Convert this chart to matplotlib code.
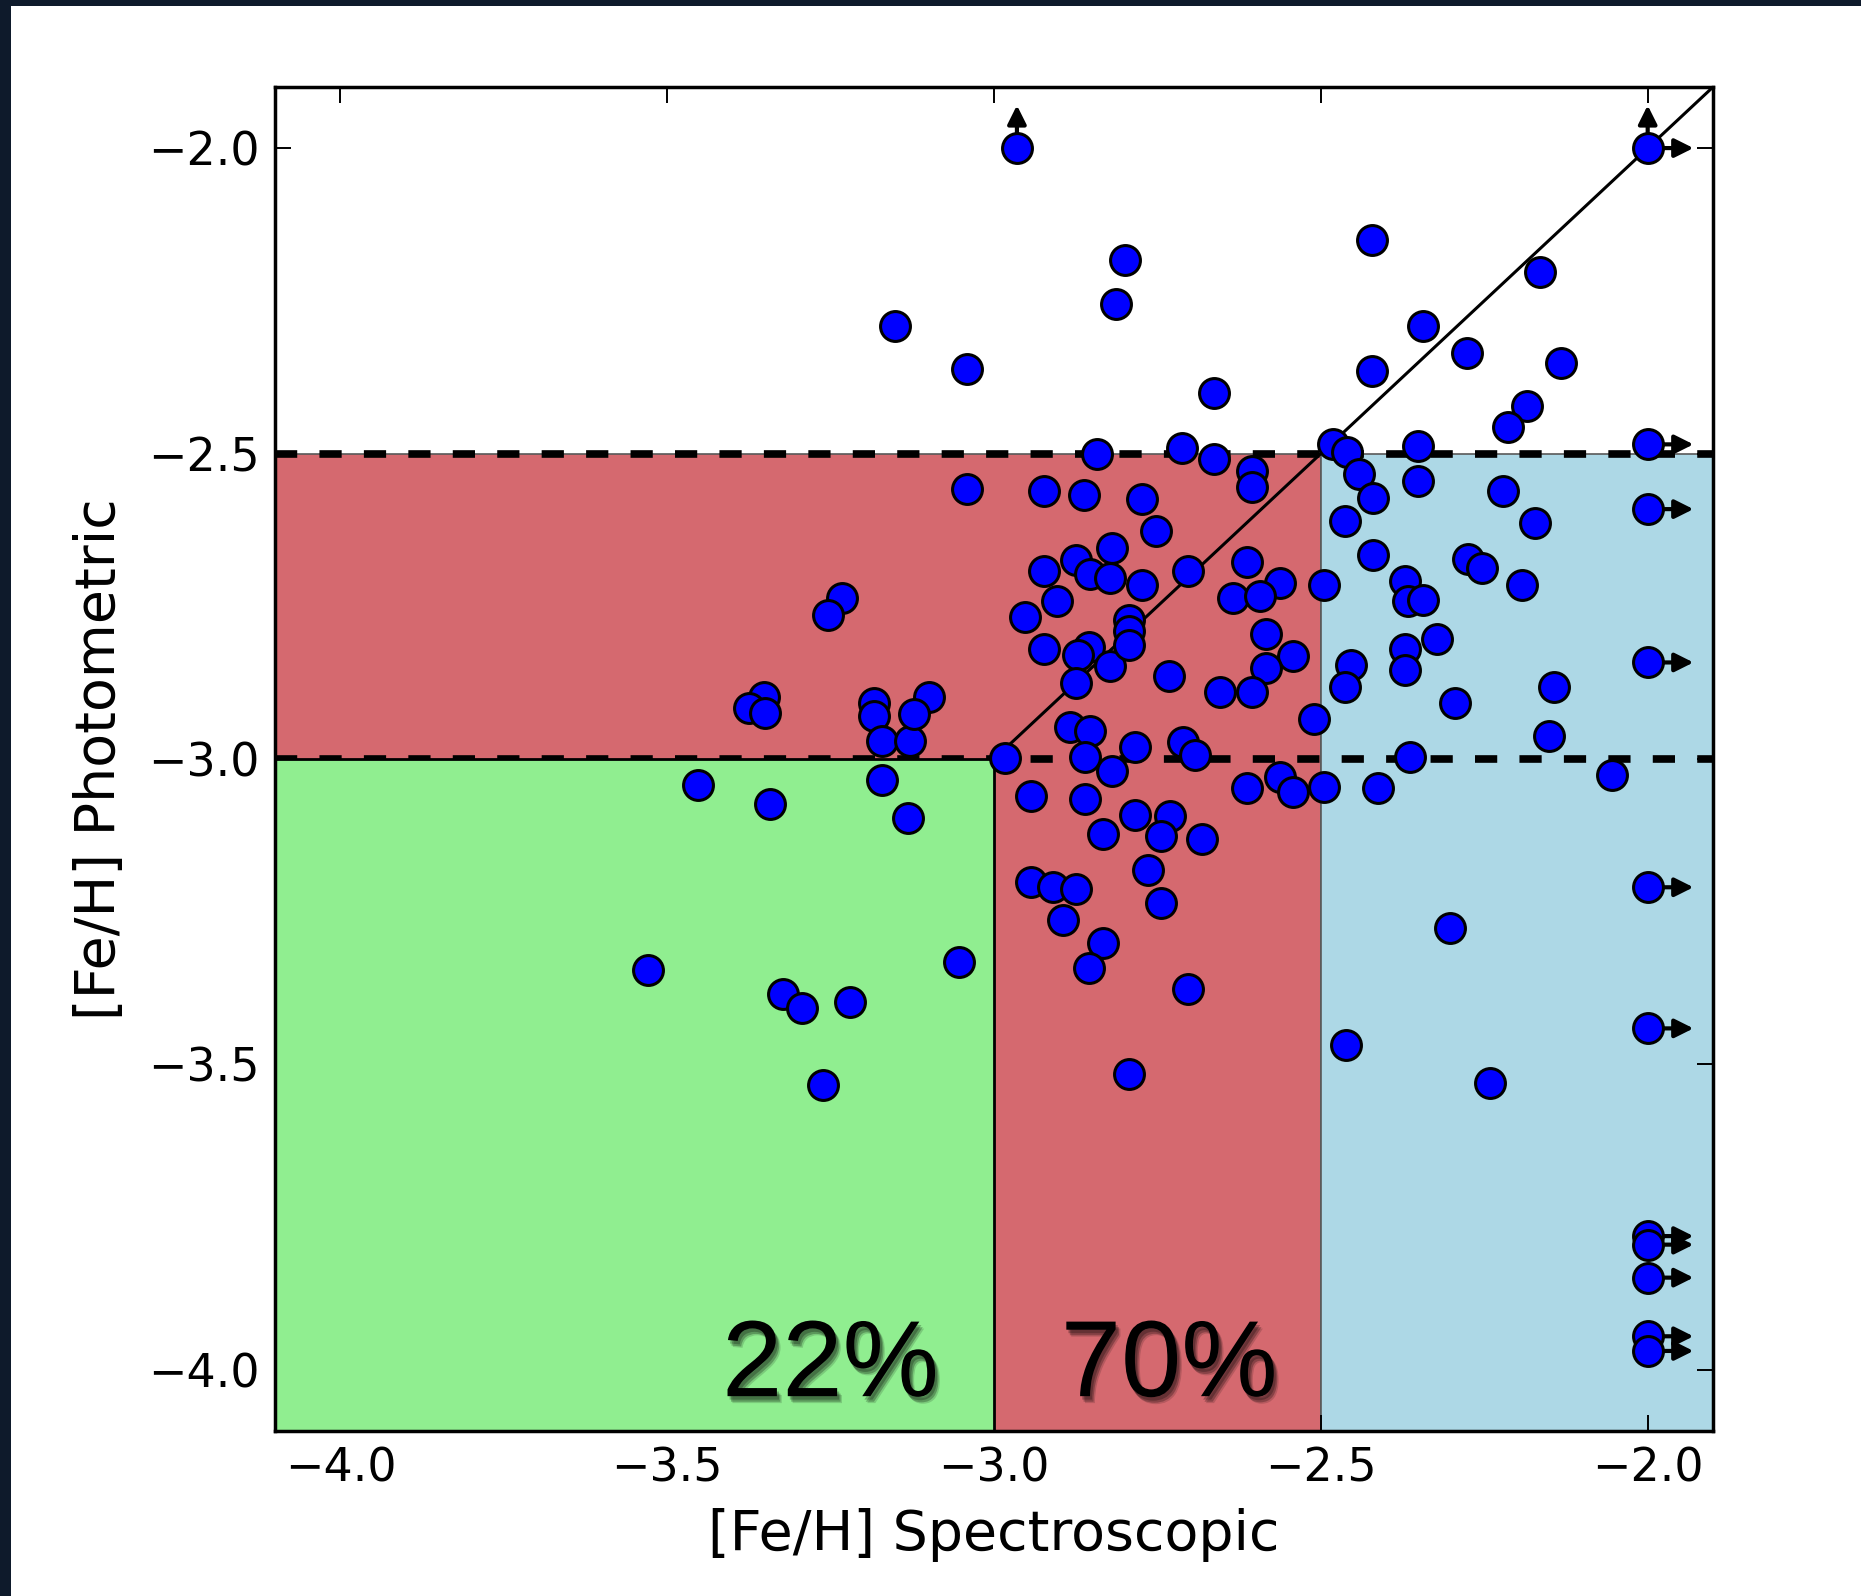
import numpy as np
import matplotlib
matplotlib.use("Agg")
import matplotlib.pyplot as plt
import matplotlib.patheffects as pe
from matplotlib.patches import Rectangle

plt.rcParams["font.family"] = ["DejaVu Sans"]
plt.rcParams["lines.scale_dashes"] = False

# [Fe/H] spectroscopic vs. photometric, one entry per star
feh_spec = [
    -2.965, -2.000, -2.800, -2.813, -3.151, -3.042, -2.422, -2.164, -2.344, -2.422,
    -2.276, -2.132, -2.184, -2.214, -2.663, -2.712, -2.663, -2.843, -2.482, -2.460,
    -2.352, -2.000,
    -2.605, -2.605, -2.773, -2.752, -2.820, -2.442, -2.421, -2.352, -2.221, -2.173,
    -2.463, -2.421, -2.275, -2.254, -2.703, -2.613, -2.000,
    -3.042, -2.923, -2.862, -2.874, -2.923,
    -2.853, -2.823, -2.903, -2.952, -2.923, -2.854, -2.871, -2.823, -2.875, -2.884,
    -2.853, -2.861, -2.819, -2.943, -2.861, -2.833, -2.943, -2.910, -2.874, -2.894,
    -2.833, -2.854, -2.984,
    -3.233, -3.254, -3.352, -3.375, -3.350, -3.184, -3.184, -3.172, -3.129, -3.100,
    -3.123, -3.453, -3.343, -3.172, -3.131, -3.530, -3.323, -3.294, -3.221, -3.053,
    -3.262,
    -2.773, -2.563, -2.634, -2.593, -2.495, -2.372, -2.366, -2.343, -2.192, -2.794,
    -2.794, -2.794, -2.733, -2.584, -2.543, -2.584, -2.654, -2.605, -2.511, -2.454,
    -2.463, -2.372, -2.372, -2.323, -2.295, -2.144, -2.151, -2.000, -2.784, -2.711,
    -2.693, -2.613, -2.563, -2.543, -2.495, -2.413, -2.364, -2.054, -2.784, -2.731,
    -2.744, -2.682, -2.764, -2.744, -2.704, -2.793, -2.303, -2.000, -2.462, -2.242,
    -2.000, -2.000, -2.000, -2.000, -2.000, -2.000,
]
feh_phot = [
    -2.000, -2.000, -2.183, -2.256, -2.292, -2.362, -2.151, -2.203, -2.291, -2.365,
    -2.335, -2.352, -2.422, -2.457, -2.401, -2.491, -2.509, -2.501, -2.485, -2.498,
    -2.487, -2.485,
    -2.528, -2.555, -2.575, -2.627, -2.655, -2.534, -2.572, -2.545, -2.561, -2.613,
    -2.610, -2.666, -2.673, -2.688, -2.693, -2.678, -2.591,
    -2.558, -2.562, -2.568, -2.674, -2.692,
    -2.697, -2.703, -2.742, -2.768, -2.820, -2.816, -2.829, -2.847, -2.876, -2.948,
    -2.954, -2.997, -3.019, -3.061, -3.065, -3.122, -3.201, -3.210, -3.213, -3.263,
    -3.301, -3.342, -2.999,
    -2.737, -2.765, -2.898, -2.917, -2.925, -2.909, -2.929, -2.970, -2.970, -2.898,
    -2.926, -3.043, -3.074, -3.035, -3.096, -3.345, -3.384, -3.407, -3.397, -3.332,
    -3.534,
    -2.715, -2.712, -2.737, -2.734, -2.716, -2.709, -2.742, -2.739, -2.716, -2.773,
    -2.790, -2.813, -2.864, -2.796, -2.831, -2.851, -2.890, -2.891, -2.934, -2.846,
    -2.882, -2.820, -2.855, -2.803, -2.908, -2.882, -2.963, -2.842, -2.981, -2.973,
    -2.994, -3.048, -3.029, -3.054, -3.046, -3.048, -2.997, -3.027, -3.092, -3.094,
    -3.126, -3.131, -3.182, -3.236, -3.376, -3.516, -3.276, -3.210, -3.468, -3.530,
    -3.441, -3.781, -3.795, -3.849, -3.945, -3.969,
]

cap = -2.0          # values stuck at the grid edge are lower limits
emp_cut = -3.0
vmp_cut = -2.5
lo, hi = -4.1, -1.9

labels = ["22%", "70%"]

spec = np.array(feh_spec)
phot = np.array(feh_phot)

fig = plt.figure(figsize=(18.61, 15.96), dpi=100)
fig.patch.set_facecolor("#0e1a2b")
fig.add_artist(Rectangle((11 / 1861, 0), 1, 1 - 6 / 1596, transform=fig.transFigure,
                         facecolor="white", edgecolor="none", zorder=-10))

ax = fig.add_axes([0.1478, 0.1034, 0.7727, 0.8421])

# classification regions
ax.add_patch(Rectangle((lo, lo), vmp_cut - lo, vmp_cut - lo, facecolor="#d5696f",
                       edgecolor="0.35", lw=1.2, zorder=1))
ax.add_patch(Rectangle((vmp_cut, lo), hi - vmp_cut, vmp_cut - lo, facecolor="lightblue",
                       edgecolor="0.35", lw=1.2, zorder=1))
for y in (vmp_cut, emp_cut):
    ax.axhline(y, color="k", lw=5.5, dashes=(16, 16), zorder=2)
ax.add_patch(Rectangle((lo, lo), emp_cut - lo, emp_cut - lo, facecolor="lightgreen",
                       edgecolor="k", lw=2, zorder=2.5))
ax.plot([emp_cut, hi], [emp_cut, hi], color="k", lw=2.2, zorder=2.6)

# lower-limit arrows
arrow = dict(arrowstyle="-|>", color="k", lw=3, mutation_scale=28, shrinkA=0, shrinkB=0)
for x, y in zip(spec, phot):
    if np.isclose(x, cap):
        ax.annotate("", xy=(x + 0.07, y), xytext=(x, y), arrowprops=arrow, zorder=2.8)
    if np.isclose(y, cap):
        ax.annotate("", xy=(x, y + 0.07), xytext=(x, y), arrowprops=arrow, zorder=2.8)

ax.plot(spec, phot, "o", ms=21.5, mfc="blue", mec="k", mew=2.2, zorder=3)

shadow = [pe.SimplePatchShadow(offset=(1.5, -2.5), shadow_rgbFace="k", alpha=0.25),
          pe.SimplePatchShadow(offset=(2.5, -4), shadow_rgbFace="k", alpha=0.25),
          pe.SimplePatchShadow(offset=(3.5, -5), shadow_rgbFace="k", alpha=0.15),
          pe.Normal()]
for txt, xc in zip(labels, [-3.25, -2.732]):
    ax.text(xc, -4.043, txt, fontsize=78, family="Liberation Sans", ha="center",
            va="baseline", color="k", zorder=4, path_effects=shadow)

ax.set_xlim(lo, hi)
ax.set_ylim(lo, hi)
ticks = np.arange(-4.0, -1.99, 0.5)
ax.set_xticks(ticks)
ax.set_yticks(ticks)
ax.tick_params(direction="in", top=True, right=True, length=11.5, width=1.4,
               labelsize=33, pad=11)
for s in ax.spines.values():
    s.set_linewidth(2.5)

ax.set_xlabel("[Fe/H] Spectroscopic", fontsize=40, labelpad=12)
ax.set_ylabel("[Fe/H] Photometric", fontsize=40, labelpad=15)

fig.savefig("out.png", dpi=100, facecolor=fig.get_facecolor())
